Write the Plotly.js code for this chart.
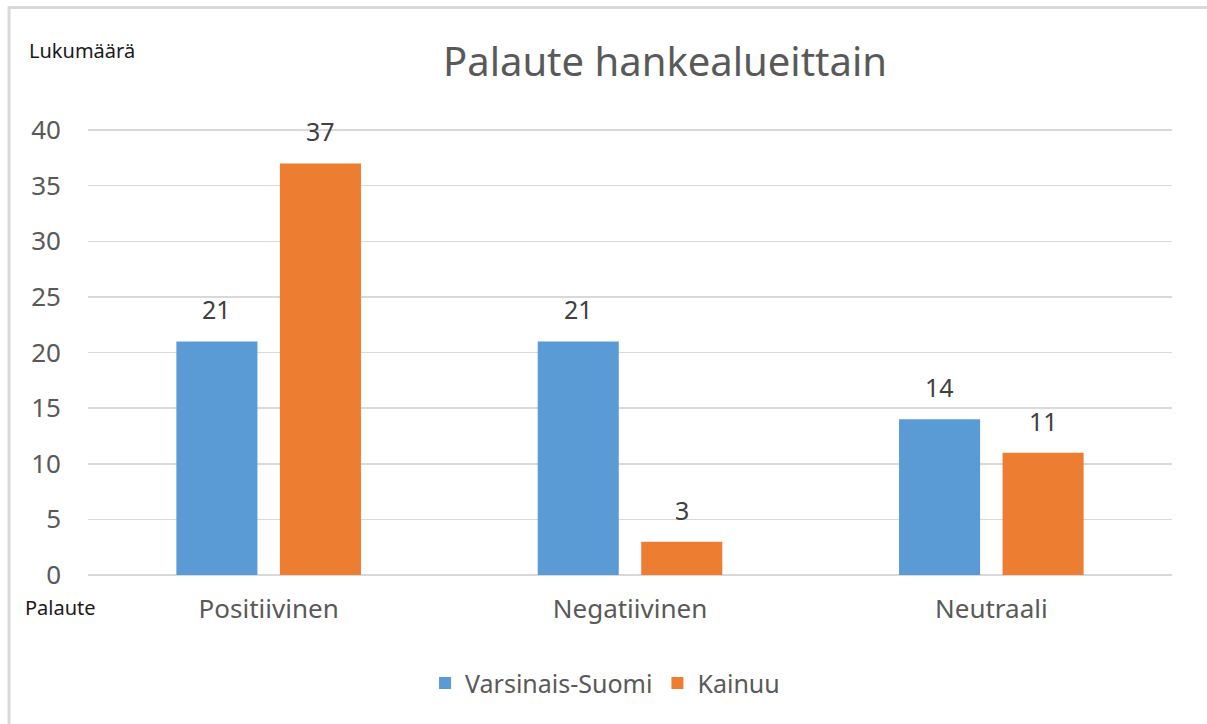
<!DOCTYPE html>
<html>
<head>
<meta charset="utf-8">
<script src="https://cdn.plot.ly/plotly-3.0.1.min.js"></script>
<style>html,body{margin:0;padding:0;background:#fff;}#chart{width:1207px;height:724px;}</style>
</head>
<body>
<div id="chart"></div>
<script>
const categories = ["Positiivinen", "Negatiivinen", "Neutraali"];
const seriesNames = ["Varsinais-Suomi", "Kainuu"];
const varsinaisSuomi = [21, 21, 14];
const kainuu = [37, 3, 11];
const colors = ["#5B9BD5", "#ED7D31"];
const yTicks = [0, 5, 10, 15, 20, 25, 30, 35, 40];

const FONT = "Noto Sans, Open Sans, sans-serif";
const allSeries = [varsinaisSuomi, kainuu];

const traces = allSeries.map((vals, i) => ({
  type: "bar",
  name: seriesNames[i],
  x: categories,
  y: vals,
  marker: {color: colors[i]},
  hoverinfo: "x+y+name"
}));

// data labels above bars
const annotations = [];
const slotShift = 51.75;
allSeries.forEach((vals, i) => {
  vals.forEach((v, j) => {
    annotations.push({
      x: categories[j], y: v, xref: "x", yref: "y",
      text: String(v), showarrow: false,
      xshift: (i === 0 ? -slotShift : slotShift),
      yanchor: "bottom", yshift: 13,
      font: {family: FONT, size: 25, color: "#404040"}
    });
  });
});
annotations.push({
  xref: "paper", yref: "paper", x: 0.5325, y: 1, yshift: 59, xanchor: "center", yanchor: "middle",
  text: "Palaute hankealueittain", showarrow: false,
  font: {family: FONT, size: 40, color: "#595959"}
});
annotations.push({
  xref: "paper", yref: "paper", x: -0.056, y: 1, yshift: 69, xanchor: "left", yanchor: "middle",
  text: "Lukumäärä", showarrow: false,
  font: {family: FONT, size: 20, color: "#1a1a1a"}
});
annotations.push({
  xref: "paper", yref: "paper", x: -0.06, y: 0, yshift: -32, xanchor: "left", yanchor: "middle",
  text: "Palaute", showarrow: false,
  font: {family: FONT, size: 20, color: "#1a1a1a"}
});

const layout = {
  width: 1207, height: 724,
  margin: {l: 88, r: 35, t: 119, b: 149},
  paper_bgcolor: "#ffffff", plot_bgcolor: "#ffffff",
  barmode: "group", bargap: 0.427, bargroupgap: 0.217,
  showlegend: true,
  legend: {
    orientation: "h", x: 0.477, xanchor: "center", y: -0.2375, yanchor: "middle",
    font: {family: FONT, size: 25, color: "#595959"}, itemwidth: 30
  },
  xaxis: {
    type: "category",
    tickfont: {family: FONT, size: 26, color: "#595959"},
    showgrid: false, showline: false, zeroline: false, ticks: "",
    ticklabelstandoff: 16
  },
  yaxis: {
    range: [0, 41], tickvals: yTicks, ticktext: yTicks.map(String),
    tickfont: {family: FONT, size: 26, color: "#595959"},
    showgrid: true, gridcolor: "#d9d9d9", gridwidth: 1.5,
    zeroline: true, zerolinecolor: "#d9d9d9", zerolinewidth: 1.5,
    showline: false, ticks: "", ticklabelstandoff: 26
  },
  annotations: annotations,
  shapes: [{
    type: "rect", xref: "paper", yref: "paper",
    x0: -0.0728, x1: 1.06, y0: -0.5, y1: 1.2445,
    line: {color: "#d9d9d9", width: 3}, fillcolor: "rgba(0,0,0,0)", layer: "below"
  }]
};

Plotly.newPlot("chart", traces, layout, {displayModeBar: false, staticPlot: true});
</script>
</body>
</html>
